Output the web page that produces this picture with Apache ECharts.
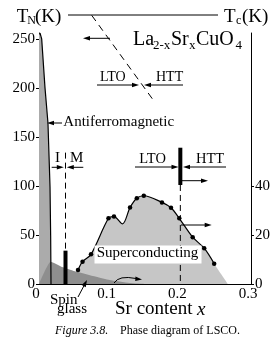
<!DOCTYPE html>
<html><head><meta charset="utf-8">
<script src="https://cdn.jsdelivr.net/npm/echarts@6/dist/echarts.min.js"></script>
<style>html,body{margin:0;padding:0;background:#fff}#c{width:276px;height:356px}</style>
</head><body><div id="c"></div>
<script>
// ---- data ----
const xTicks = [0, 0.1, 0.2, 0.3];
const tnTicks = [0, 50, 100, 150, 200, 250];
const tcTicks = [0, 20, 40];

// superconducting dome (Tc, right axis)
const domeX  = [0.0552, 0.0616, 0.0736, 0.0983, 0.1061, 0.1182, 0.1288, 0.1384, 0.1483, 0.1740, 0.1868, 0.1985, 0.2175, 0.2338, 0.2479];
const domeTc = [5.7, 9.1, 12.1, 26.8, 27.5, 24.5, 31.2, 35.0, 36.0, 33.3, 31.1, 26.8, 19.1, 14.6, 8.3];
const domeMarked = [1, 1, 1, 1, 1, 0, 1, 1, 1, 1, 1, 1, 1, 1, 1];
const scEndX = [0.2674];
const scEndTc = [0];

// antiferromagnetic boundary (T_N, left axis)
const afX = [0, 0.0014, 0.0038, 0.0085, 0.0127, 0.0156, 0.0165, 0.017];
const afT = [256, 256, 250, 200, 164, 99, 49, 0];

// spin glass region (left axis)
const sgX = [0, 0.0165, 0.034, 0.048, 0.081, 0.100, 0.128, 0.150];
const sgT = [0, 22.8, 17, 13.6, 7.4, 4, 1, 0];

// transition markers
const imX = [0.0375, 0.0375];
const imDashT = [134, 34];
const sgBarT = [0, 34];
const structX = [0.2, 0.2];
const structBarT = [101, 139];
const structDashT = [101, 0];
const ltoHttX = [0.0746, 0.1613];
const ltoHttT = [274, 188];

// ---- helpers ----
const FONT = '"Liberation Serif", "Times New Roman", serif';
const pairs = (xs, ys) => xs.map((x, i) => [x, ys[i]]);

function txt(text, x, y, size, opts) {
  opts = opts || {};
  return {
    type: 'text', z: 110,
    style: {
      text: text, x: x, y: y,
      font: (opts.italic ? 'italic ' : '') + size + 'px ' + FONT,
      fill: '#000',
      textAlign: opts.align || 'left', align: opts.align || 'left',
      textVerticalAlign: 'middle', verticalAlign: 'middle'
    }
  };
}
function arrow(x1, y1, x2, y2) {
  const dx = x2 - x1, dy = y2 - y1, L = Math.hypot(dx, dy), ux = dx / L, uy = dy / L;
  const hl = 7, hw = 2.3;
  const bx = x2 - ux * hl, by = y2 - uy * hl;
  return [
    { type: 'line', z: 110, shape: { x1: x1, y1: y1, x2: bx + ux, y2: by + uy }, style: { stroke: '#000', lineWidth: 1 } },
    { type: 'polygon', z: 110, shape: { points: [[x2, y2], [bx - uy * hw, by + ux * hw], [bx + uy * hw, by - ux * hw]] }, style: { fill: '#000' } }
  ];
}

const graphics = [
  // header
  txt('T', 16.7, 17, 19), txt('N', 27.3, 21, 12), txt('(K)', 35, 17, 19),
  { type: 'line', z: 110, shape: { x1: 68, y1: 15, x2: 218, y2: 15 }, style: { stroke: '#000', lineWidth: 1 } },
  txt('T', 224, 17, 19), txt('c', 236, 21, 12), txt('(K)', 242, 17, 19),
  // formula
  txt('La', 133, 39.5, 20), txt('2-x', 153, 45.7, 13), txt('Sr', 171, 39.5, 20),
  txt('x', 189, 45.7, 13), txt('CuO', 196, 39.5, 20), txt('4', 235.5, 45.7, 13),
  // LTO / HTT upper
  txt('LTO', 100, 77.4, 14), txt('HTT', 156, 77.4, 14),
  // Antiferromagnetic
  txt('Antiferromagnetic', 63.3, 122.5, 15),
  // I' M
  txt('I', 55, 158, 15), txt('M', 70, 158, 15),
  // LTO / HTT lower
  txt('LTO', 139.3, 159, 14.5), txt('HTT', 196, 159, 14.5),
  // superconducting label
  { type: 'rect', z: 105, shape: { x: 94.5, y: 245.5, width: 107, height: 18 }, style: { fill: '#fff' } },
  txt('Superconducting', 96.7, 253.3, 15),
  // spin glass
  txt('Spin', 50, 300, 15), txt('glass', 57, 309, 15),
  // axis title
  txt('Sr content', 115, 309.5, 19), txt('x', 197, 309.5, 19, { italic: true }),
  // caption
  txt('Figure 3.8.', 55, 331, 12, { italic: true }), txt('Phase diagram of LSCO.', 120, 331, 12),
  // curved bottom arrow
  { type: 'bezierCurve', z: 110, shape: { x1: 114, y1: 283, cpx1: 119, cpy1: 275, x2: 136, y2: 278.5 }, style: { stroke: '#000', lineWidth: 1, fill: null } },
  { type: 'polygon', z: 110, shape: { points: [[142, 279.5], [135.5, 276.5], [135.2, 281]] }, style: { fill: '#000' } }
].concat(
  arrow(110, 38.3, 83, 38.3),
  arrow(97, 85, 139, 85),
  arrow(183, 85, 144, 85),
  arrow(62, 123, 47, 123),
  arrow(51.7, 167.3, 63.8, 167.3),
  arrow(83.3, 167.3, 66.8, 167.3),
  arrow(135, 167, 178.5, 167),
  arrow(226, 167, 183, 167),
  arrow(181, 180.7, 208, 180.7),
  arrow(181, 225, 211.7, 225),
  arrow(78, 297, 87, 280)
);

const chart = echarts.init(document.getElementById('c'), null, { renderer: 'canvas' });
chart.setOption({
  animation: false,
  backgroundColor: '#fff',
  grid: { left: 39, right: 25, top: 33, bottom: 72 },
  xAxis: {
    type: 'value', min: 0, max: 0.3, interval: 0.1,
    axisLine: { lineStyle: { color: '#000', width: 1 } },
    axisTick: { inside: true, length: 3, lineStyle: { color: '#000' }, customValues: xTicks },
    axisLabel: { customValues: xTicks, color: '#000', fontFamily: FONT, fontSize: 15, margin: 3, padding: [0, 6, 0, 0],
      formatter: v => (v === 0 ? '0' : (+v).toFixed(1)) },
    splitLine: { show: false }
  },
  yAxis: [
    {
      type: 'value', min: 0, max: 256, interval: 50, position: 'left',
      axisLine: { show: true, lineStyle: { color: '#000', width: 1 } },
      axisTick: { show: true, length: 3, lineStyle: { color: '#000' }, customValues: tnTicks },
      axisLabel: { customValues: tnTicks, color: '#000', fontFamily: FONT, fontSize: 15, margin: 4,
        formatter: v => (v % 50 === 0 ? String(v) : '') },
      splitLine: { show: false }
    },
    {
      type: 'value', min: 0, max: 102.4, interval: 20, position: 'right',
      axisLine: { show: true, lineStyle: { color: '#000', width: 1 } },
      axisTick: { show: true, length: 3, lineStyle: { color: '#000' }, customValues: tcTicks },
      axisLabel: { customValues: tcTicks, color: '#000', fontFamily: FONT, fontSize: 15, margin: 4,
        formatter: v => (v <= 40 && v % 20 === 0 ? String(v) : '') },
      splitLine: { show: false }
    }
  ],
  series: [
    { type: 'line', yAxisIndex: 1, data: pairs(domeX.concat(scEndX), domeTc.concat(scEndTc)), smooth: 0.3,
      symbol: 'none', lineStyle: { width: 0, opacity: 0 }, areaStyle: { color: '#c6c6c6', opacity: 1 }, z: 1, silent: true },
    { type: 'line', yAxisIndex: 0, data: pairs(afX, afT), symbol: 'none',
      lineStyle: { width: 0, opacity: 0 }, areaStyle: { color: '#ababab', opacity: 1 }, z: 2, silent: true },
    { type: 'line', yAxisIndex: 0, data: pairs(sgX, sgT), symbol: 'none', smooth: 0.15,
      lineStyle: { width: 0, opacity: 0 }, areaStyle: { color: '#8e8e8e', opacity: 1 }, z: 3, silent: true },
    { type: 'line', yAxisIndex: 0, data: pairs(afX.slice(1), afT.slice(1)), symbol: 'none',
      lineStyle: { color: '#000', width: 1.2 }, z: 5 },
    { type: 'line', yAxisIndex: 1, smooth: 0.3,
      data: domeX.map((x, i) => ({ value: [x, domeTc[i]], symbol: domeMarked[i] ? 'circle' : 'none' })),
      symbolSize: 4.5, itemStyle: { color: '#000' }, lineStyle: { color: '#000', width: 1.2 }, z: 6 },
    { type: 'line', yAxisIndex: 0, data: pairs(imX, imDashT), symbol: 'none',
      lineStyle: { color: '#000', width: 1, type: [6, 4] }, z: 5 },
    { type: 'line', yAxisIndex: 0, data: pairs(imX, sgBarT), symbol: 'none',
      lineStyle: { color: '#000', width: 4, cap: 'butt' }, z: 7 },
    { type: 'line', yAxisIndex: 0, data: pairs(structX, structDashT), symbol: 'none',
      lineStyle: { color: '#000', width: 1, type: [6, 4] }, z: 5 },
    { type: 'line', yAxisIndex: 0, data: pairs(structX, structBarT), symbol: 'none',
      lineStyle: { color: '#000', width: 4, cap: 'butt' }, z: 7 },
    { type: 'line', yAxisIndex: 0, data: pairs(ltoHttX, ltoHttT), symbol: 'none', clip: false,
      lineStyle: { color: '#000', width: 1, type: [7, 5] }, z: 5 }
  ],
  graphic: { elements: graphics }
});
</script>
</body></html>
